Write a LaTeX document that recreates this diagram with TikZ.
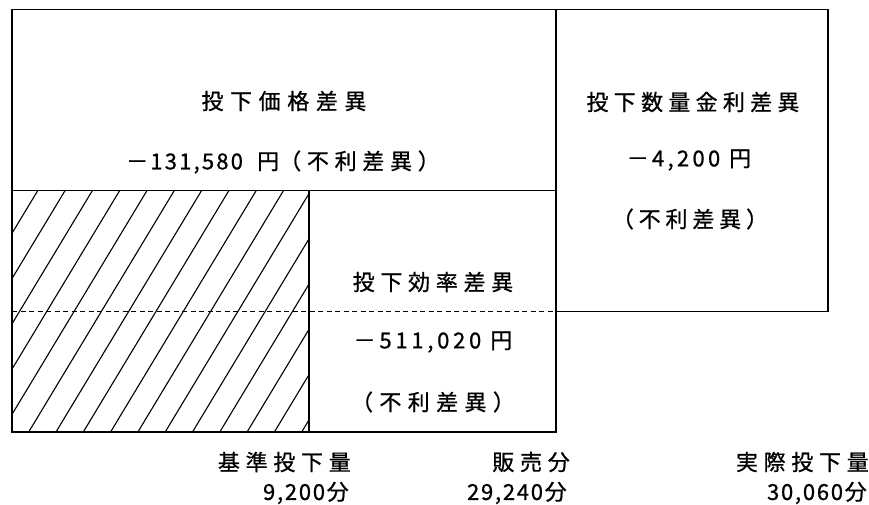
\documentclass[tikz,border=0pt]{standalone}
\usepackage{fontspec}
\setmainfont{Noto Sans CJK JP}[FakeBold=0.8]
\newcommand{\jpf}[1]{\fontsize{22}{24}\selectfont\addfontfeature{LetterSpace=#1}}
\newcommand{\lsp}[1]{\addfontfeature{LetterSpace=#1}}
\begin{document}
\begin{tikzpicture}[x=1pt,y=-1pt,
  frame/.style={line width=1.3pt, line join=miter},
  hatchline/.style={line width=1.1pt},
  dashline/.style={line width=1.4pt, dash pattern=on 5pt off 3.5pt},
  lab/.style={inner sep=0pt, anchor=center},
  rlab/.style={inner sep=0pt, anchor=east},
]
\useasboundingbox (0,0) rectangle (869,505);
\fill[white] (0,0) rectangle (869,505);

% hatching
\begin{scope}
  \clip (12,190.7) rectangle (309,432);
  \foreach \k in {-2,...,16}
    \draw[hatchline] ({37.7+27.3*\k},190.7) -- ++(-145.7,241.6);
\end{scope}

% dashed line
\draw[dashline] (12,311.5) -- (556,311.5);

% frames
\draw[frame] (12,9.5) rectangle (556,432);
\draw[frame] (12,190.7) -- (556,190.7);
\draw[frame] (309,190.7) -- (309,432);
\draw[frame] (556,9.5) rectangle (828,311.5);

% texts
\node[lab, font=\jpf{30}] (price) at (284,101) {投下価格差異};
\node[lab, font=\jpf{10}] (priceval) at (283,162) {－131,580 \ 円{\lsp{26}（不利差異）}};
\node[lab, font=\jpf{15}] (qtyval) at (689,160) {－4,200\hspace{9pt}円};
\node[lab, font=\jpf{24}] (qty) at (693,102) {投下数量金利差異};
\node[lab, font=\jpf{22}] (qtynote) at (690,219) {（不利差異）};
\node[lab, font=\jpf{26}] (eff) at (433,282) {投下効率差異};
\node[lab, font=\jpf{17}] (effval) at (433,342) {－511,020\hspace{9pt}円};
\node[lab, font=\jpf{29}] (effnote) at (433,402) {（不利差異）};

\node[rlab, font=\jpf{26}] (std) at (351,462) {基準投下量};
\node[rlab, font=\jpf{8}] (stdv) at (349,493) {9,200分};
\node[rlab, font=\jpf{26}] (sales) at (570,462) {販売分};
\node[rlab, font=\jpf{8}] (salesv) at (567,493) {29,240分};
\node[rlab, font=\jpf{26}] (act) at (869,462) {実際投下量};
\node[rlab, font=\jpf{8}] (actv) at (867,493) {30,060分};
\end{tikzpicture}
\end{document}
